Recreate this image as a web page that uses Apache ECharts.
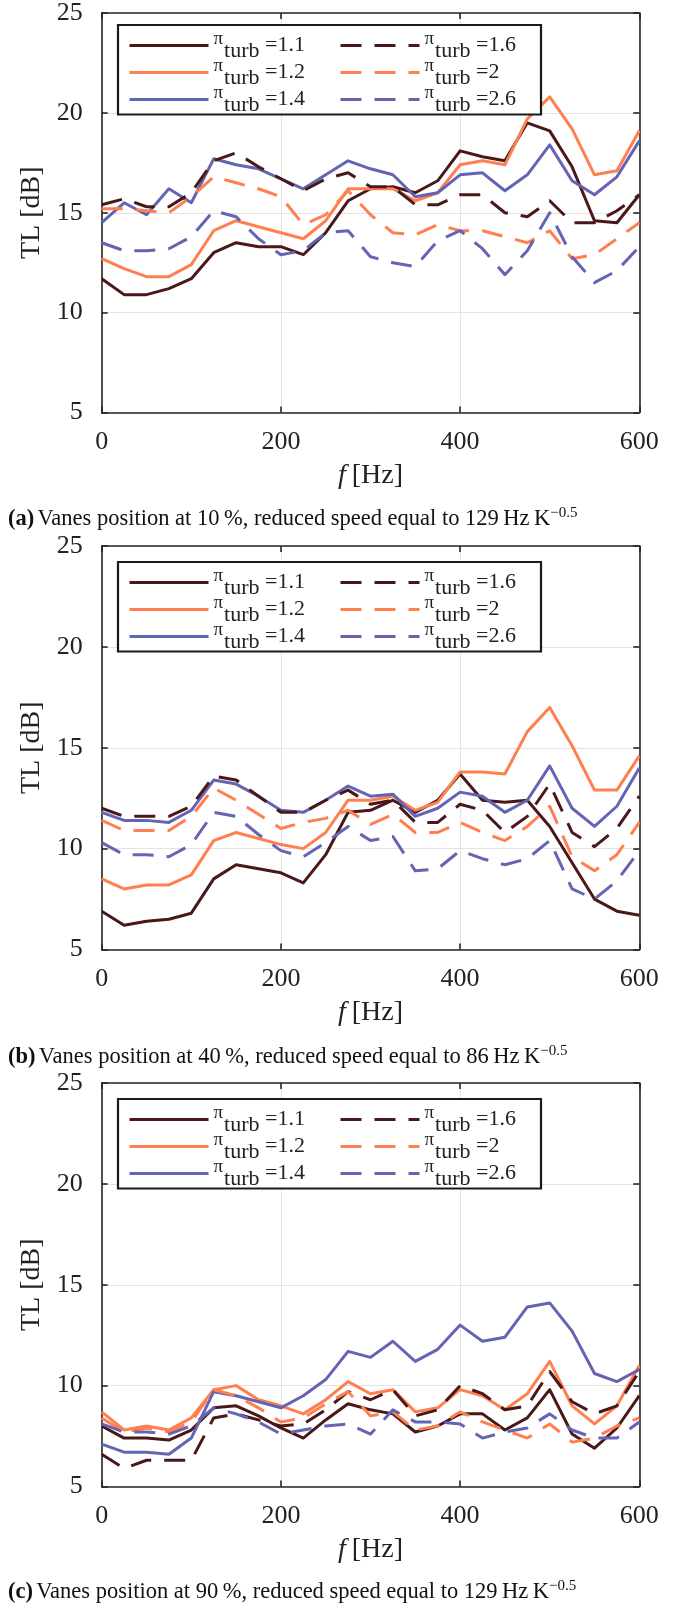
<!DOCTYPE html>
<html><head><meta charset="utf-8">
<script src="https://cdn.jsdelivr.net/npm/echarts@6/dist/echarts.min.js"></script>
<style>html,body{margin:0;padding:0;background:#fff}#c{width:681px;height:1604px}</style>
</head><body><div id="c"></div>
<script>
// ---------- DATA ----------
const freq = [0,25,50,75,100,125,150,175,200,225,250,275,300,325,350,375,400,425,450,475,500,525,550,575,600];
const piValues = ['1.1','1.2','1.4','1.6','2','2.6'];
const xTicks = [0,200,400,600];
const yTicks = [5,10,15,20,25];

// (a) vanes 10 %
const a_11 = [11.7,10.9,10.9,11.2,11.7,13.0,13.5,13.3,13.3,12.9,14.0,15.6,16.2,16.3,16.0,16.6,18.1,17.8,17.6,19.5,19.1,17.3,14.6,14.5,15.9];
const a_12 = [12.7,12.2,11.8,11.8,12.4,14.1,14.6,14.3,14.0,13.7,14.6,16.2,16.2,16.2,15.6,16.0,17.4,17.6,17.4,19.7,20.8,19.2,16.9,17.1,19.1];
const a_14 = [14.5,15.5,14.9,16.2,15.5,17.7,17.4,17.2,16.7,16.2,16.9,17.6,17.2,16.9,15.8,16.0,16.9,17.0,16.1,16.9,18.4,16.6,15.9,16.8,18.6];
const a_16 = [15.4,15.7,15.3,15.3,16.0,17.6,18.0,17.3,16.7,16.1,16.7,17.0,16.3,16.3,15.4,15.4,15.9,15.9,15.0,14.8,15.6,14.5,14.5,15.1,15.9];
const a_20 = [15.2,15.2,15.1,15.0,15.8,16.8,16.5,16.2,15.8,14.4,14.9,16.1,14.9,14.0,13.9,14.4,14.1,14.1,13.8,13.5,14.1,12.7,12.9,13.7,14.5];
const a_26 = [13.5,13.1,13.1,13.2,13.8,15.1,14.8,13.7,12.9,13.1,14.0,14.1,12.8,12.5,12.3,13.6,14.1,13.2,11.9,13.1,15.0,12.8,11.5,12.1,13.3];

// (b) vanes 40 %
const b_11 = [6.9,6.2,6.4,6.5,6.8,8.5,9.2,9.0,8.8,8.3,9.7,11.8,11.9,12.4,11.8,12.4,13.7,12.4,12.3,12.4,11.1,9.3,7.5,6.9,6.7];
const b_12 = [8.5,8.0,8.2,8.2,8.7,10.4,10.8,10.5,10.2,10.0,10.8,12.4,12.4,12.6,11.9,12.3,13.8,13.8,13.7,15.8,17.0,15.1,12.9,12.9,14.6];
const b_14 = [11.8,11.4,11.4,11.3,11.9,13.4,13.2,12.6,11.9,11.8,12.4,13.1,12.6,12.7,11.6,12.0,12.8,12.6,11.8,12.4,14.1,12.0,11.1,12.1,14.0];
const b_16 = [12.0,11.6,11.6,11.6,12.1,13.6,13.4,12.6,11.8,11.8,12.4,12.9,12.2,12.4,11.3,11.3,12.2,11.9,10.8,11.6,13.2,10.8,10.1,11.0,12.6];
const b_20 = [11.4,10.9,10.9,10.9,11.6,13.0,12.4,11.7,11.0,11.3,11.5,11.9,11.2,11.7,10.8,10.8,11.3,10.8,10.4,11.1,12.1,9.6,8.9,9.7,11.3];
const b_26 = [10.3,9.7,9.7,9.6,10.2,11.8,11.6,10.7,9.9,9.6,10.3,11.1,10.4,10.6,8.9,9.0,9.9,9.5,9.2,9.5,10.4,8.0,7.5,8.4,9.9];

// (c) vanes 90 %
const c_11 = [8.0,7.4,7.4,7.3,7.8,8.9,9.0,8.5,7.9,7.4,8.3,9.1,8.8,8.6,7.7,8.0,8.6,8.6,7.8,8.4,9.8,7.6,6.9,7.9,9.5];
const c_12 = [8.7,7.8,8.0,7.8,8.4,9.8,10.0,9.3,9.0,8.6,9.3,10.2,9.6,9.8,8.7,8.9,9.8,9.5,8.8,9.6,11.2,9.0,8.1,9.0,11.0];
const c_14 = [7.1,6.7,6.7,6.6,7.4,9.7,9.5,9.2,8.9,9.5,10.3,11.7,11.4,12.2,11.2,11.8,13.0,12.2,12.4,13.9,14.1,12.7,10.6,10.2,10.8];
const c_16 = [6.6,5.9,6.3,6.3,6.3,8.4,8.6,8.3,8.0,8.1,8.8,9.7,9.3,9.8,8.5,8.8,10.0,9.6,8.8,9.0,10.7,9.2,8.6,9.0,10.7];
const c_20 = [8.4,7.7,7.9,7.7,8.2,9.8,9.5,8.9,8.2,8.4,9.1,9.7,8.5,8.7,7.8,8.0,8.7,8.2,7.8,7.4,8.1,7.2,7.4,8.0,8.4];
const c_26 = [8.1,7.7,7.7,7.6,8.0,8.9,8.6,8.2,7.6,7.8,8.0,8.1,7.6,8.8,8.2,8.2,8.1,7.4,7.7,7.9,8.6,7.8,7.4,7.4,8.2];

const captions = [
  ['(a)', 'Vanes position at 10\u2009%, reduced speed equal to 129\u2009Hz\u2009K', '\u22120.5'],
  ['(b)', 'Vanes position at 40\u2009%, reduced speed equal to 86\u2009Hz\u2009K', '\u22120.5'],
  ['(c)', 'Vanes position at 90\u2009%, reduced speed equal to 129\u2009Hz\u2009K', '\u22120.5']
];

// ---------- STYLE / LAYOUT ----------
const panels = [[a_11,a_12,a_14,a_16,a_20,a_26],[b_11,b_12,b_14,b_16,b_20,b_26],[c_11,c_12,c_14,c_16,c_20,c_26]];
const colors = ['#4a1818','#ff7f50','#6464b4','#4a1818','#ff7f50','#6464b4'];
const dashed = [false,false,false,true,true,true];
const gridTops = [9, 546, 1083];
const gridH = 403.5;
const gridLeft = 101.7, gridRight = 681 - 639.3;
const captionTops = [506, 1044, 1579];
const SERIF = '"Liberation Serif", "DejaVu Serif", serif';
const AXC = '#262626';
const names = piValues.map(v => '\u03c0turb =' + v);

const legendRich = {
  p: {fontFamily: SERIF, fontSize: 19, lineHeight: 6, verticalAlign: 'bottom', padding: [0, 1, 7, 0], color: '#222'},
  s: {fontFamily: SERIF, fontSize: 22, lineHeight: 6, verticalAlign: 'top', padding: [5, 0, 0, 0], color: '#222'},
  v: {fontFamily: SERIF, fontSize: 22, lineHeight: 20, verticalAlign: 'middle', color: '#222'}
};

const grid = [], xAxis = [], yAxis = [], series = [], legend = [], graphic = [];
gridTops.forEach((top, p) => {
  grid.push({left: gridLeft, right: gridRight, top: top, height: gridH, containLabel: false});
  const common = {gridIndex: p, type: 'value'};
  const line = {show: true, onZero: false, lineStyle: {color: AXC, width: 1.6}};
  const tick = {show: true, inside: true, length: 6, lineStyle: {color: AXC, width: 1.6}};
  xAxis.push(Object.assign({}, common, {
    min: xTicks[0], max: xTicks[xTicks.length-1], interval: xTicks[1]-xTicks[0], position: 'bottom',
    axisLine: line, axisTick: tick,
    axisLabel: {fontFamily: SERIF, fontSize: 26, color: '#222', margin: 17},
    splitLine: {show: true, lineStyle: {color: '#e3e3e3', width: 1}},
    name: '{i|f}\u2002{n|[Hz]}', nameLocation: 'middle', nameGap: 49,
    nameTextStyle: {rich: {i: {fontFamily: SERIF, fontStyle: 'italic', fontSize: 28, color: '#222'},
                            n: {fontFamily: SERIF, fontSize: 28, color: '#222'}}}
  }));
  xAxis.push(Object.assign({}, common, {
    min: xTicks[0], max: xTicks[xTicks.length-1], interval: xTicks[1]-xTicks[0], position: 'top',
    axisLine: line, axisTick: tick, axisLabel: {show: false}, splitLine: {show: false}
  }));
  yAxis.push(Object.assign({}, common, {
    min: yTicks[0], max: yTicks[yTicks.length-1], interval: yTicks[1]-yTicks[0], position: 'left',
    axisLine: line, axisTick: tick,
    axisLabel: {fontFamily: SERIF, fontSize: 26, color: '#222', margin: 19},
    splitLine: {show: true, lineStyle: {color: '#e3e3e3', width: 1}},
    name: 'TL [dB]', nameLocation: 'middle', nameGap: 56, nameRotate: 90,
    nameTextStyle: {fontFamily: SERIF, fontSize: 28, color: '#222'}
  }));
  yAxis.push(Object.assign({}, common, {
    min: yTicks[0], max: yTicks[yTicks.length-1], interval: yTicks[1]-yTicks[0], position: 'right',
    axisLine: line, axisTick: tick, axisLabel: {show: false}, splitLine: {show: false}
  }));
  panels[p].forEach((arr, k) => {
    series.push({
      type: 'line', name: names[k], xAxisIndex: 2*p, yAxisIndex: 2*p,
      data: freq.map((f, i) => [f, arr[i]]),
      symbol: 'none', silent: true, z: 2,
      lineStyle: {color: colors[k], width: 3, type: dashed[k] ? [21, 13] : 'solid', join: 'round'},
      itemStyle: {color: colors[k]}
    });
  });
  // legend: frame + two columns
  graphic.push({
    type: 'rect', z: 3, silent: true,
    shape: {x: 118, y: top + 16, width: 423, height: 89.5},
    style: {fill: '#fff', stroke: '#1a1a1a', lineWidth: 2.2}
  });
  [[0,1,2],[3,4,5]].forEach((idx, col) => {
    legend.push({
      data: idx.map(i => names[i]), orient: 'vertical', left: col === 0 ? 128 : 339, top: top + 20.4,
      itemWidth: 79, itemHeight: 14, itemGap: -6, padding: 0, z: 4,
      selectedMode: false,
      itemStyle: {opacity: 0},
      lineStyle: {width: 3},
      formatter: (n) => '{p|\u03c0}{s|turb}{v| =' + n.split('=')[1] + '}',
      textStyle: {fontFamily: SERIF, color: '#222', rich: legendRich}
    });
  });
  const cap = captions[p];
  graphic.push({
    type: 'text', left: 8, top: captionTops[p], silent: true,
    style: {
      text: '{b|' + cap[0] + '} {t|' + cap[1] + '}{sup|' + cap[2] + '}',
      rich: {
        b: {fontFamily: SERIF, fontWeight: 'bold', fontSize: 22.5, lineHeight: 26, fill: '#111'},
        t: {fontFamily: SERIF, fontSize: 22.5, lineHeight: 26, fill: '#111'},
        sup: {fontFamily: SERIF, fontSize: 15, lineHeight: 10, verticalAlign: 'top', fill: '#111'}
      }
    }
  });
});

const chart = echarts.init(document.getElementById('c'), null, {renderer: 'canvas'});
chart.setOption({animation: false, backgroundColor: '#fff', grid, xAxis, yAxis, series, legend, graphic});
</script></body></html>
